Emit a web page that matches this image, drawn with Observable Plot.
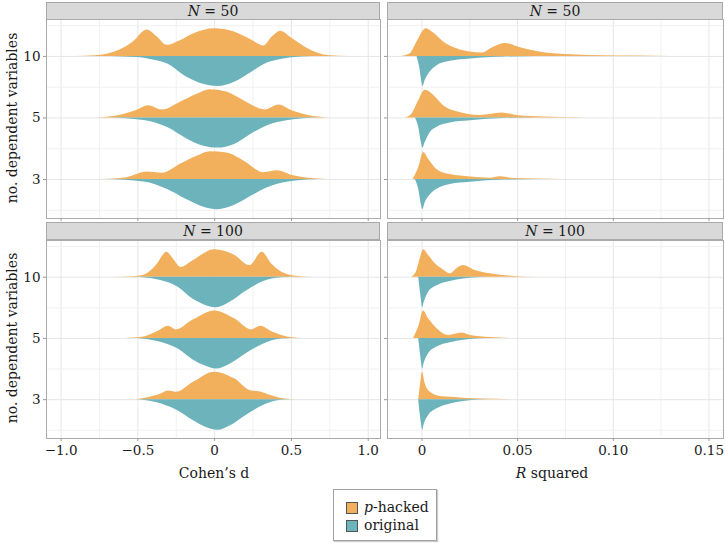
<!DOCTYPE html>
<html><head><meta charset="utf-8">
<script src="https://cdn.jsdelivr.net/npm/d3@7"></script>
<script src="https://cdn.jsdelivr.net/npm/@observablehq/plot@0.6"></script>
<style>
body{margin:0;background:#fff;font-family:"DejaVu Serif","Liberation Serif",serif;color:#1a1a1a}
#fig{position:relative;width:725px;height:543px;overflow:hidden}
#fig svg{position:absolute;overflow:visible}
.strip{position:absolute;background:#d9d9d9;border:1px solid #a9a9a9;box-sizing:border-box;text-align:center;font-size:14px;line-height:16px;color:#1a1a1a}
.ytitle{position:absolute;font-size:14px;white-space:nowrap;transform:translate(-50%,-50%) rotate(-90deg)}
.xtitle{position:absolute;font-size:14px;white-space:nowrap;transform:translateX(-50%)}
#legend{position:absolute;left:333px;top:489px;width:104px;height:52px;box-sizing:border-box;border:1px solid #a0a0a0;box-shadow:1px 1px 1px #ccc;font-size:14px}
.key{position:absolute;width:10px;height:10px;border:1px solid #555}
.lab{position:absolute;left:30px;line-height:16px}
</style></head>
<body><div id="fig"></div>
<script>
// ---- data -------------------------------------------------------------
const rowLabels = ["3", "5", "10"];
const groups = ["p-hacked", "original"];
const colors = ["#F2AF5C", "#6CB3BC"];
const panelTitles = ["50", "50", "100", "100"];
const dTicks = [-1, -0.5, 0, 0.5, 1];
const dTickLabels = ["\u22121.0", "\u22120.5", "0", "0.5", "1.0"];
const dMinor = [-0.75, -0.25, 0.25, 0.75];
const rTicks = [0, 0.05, 0.10, 0.15];
const rTickLabels = ["0", "0.05", "0.10", "0.15"];
const rMinor = [0.025, 0.075, 0.125];

// Cohen's d, N = 50 : [value, half-height (band units)]
const d50_hacked_10 = [[-0.9,0],[-0.78,0.01],[-0.62,0.1],[-0.53,0.235],[-0.44,0.43],[-0.375,0.32],[-0.31,0.18],[-0.22,0.26],[-0.135,0.37],[0.0,0.45],[0.125,0.4],[0.236,0.27],[0.32,0.17],[0.377,0.32],[0.43,0.41],[0.5,0.3],[0.607,0.126],[0.737,0.016],[0.88,0]];
const d50_original_10 = [[-0.68,0],[-0.48,0.02],[-0.4,0.06],[-0.31,0.12],[-0.18,0.34],[-0.08,0.45],[0.02,0.49],[0.13,0.42],[0.24,0.26],[0.34,0.11],[0.45,0.04],[0.6,0.005],[0.68,0]];
const d50_hacked_5 = [[-0.78,0],[-0.62,0.04],[-0.51,0.12],[-0.43,0.2],[-0.34,0.13],[-0.22,0.26],[-0.11,0.39],[-0.03,0.46],[0.08,0.42],[0.19,0.28],[0.33,0.13],[0.42,0.21],[0.5,0.12],[0.61,0.04],[0.74,0]];
const d50_original_5 = [[-0.7,0],[-0.46,0.04],[-0.31,0.15],[-0.18,0.34],[-0.07,0.46],[0.02,0.49],[0.13,0.43],[0.24,0.26],[0.34,0.13],[0.48,0.04],[0.68,0]];
const d50_hacked_3 = [[-0.74,0],[-0.57,0.03],[-0.44,0.12],[-0.34,0.1],[-0.22,0.25],[-0.11,0.38],[-0.03,0.45],[0.08,0.43],[0.19,0.3],[0.32,0.11],[0.41,0.14],[0.5,0.07],[0.61,0.02],[0.74,0]];
const d50_original_3 = [[-0.7,0],[-0.46,0.04],[-0.31,0.16],[-0.18,0.33],[-0.07,0.45],[0.02,0.49],[0.13,0.42],[0.24,0.27],[0.34,0.14],[0.48,0.04],[0.68,0]];

// Cohen's d, N = 100
const d100_hacked_10 = [[-0.66,0],[-0.51,0.01],[-0.44,0.055],[-0.38,0.19],[-0.31,0.41],[-0.27,0.3],[-0.22,0.16],[-0.14,0.27],[0.0,0.45],[0.13,0.36],[0.23,0.19],[0.31,0.41],[0.37,0.22],[0.46,0.055],[0.55,0.01],[0.64,0]];
const d100_original_10 = [[-0.52,0],[-0.48,0.005],[-0.35,0.055],[-0.24,0.16],[-0.14,0.36],[-0.07,0.45],[0.01,0.5],[0.1,0.41],[0.21,0.22],[0.32,0.07],[0.43,0.01],[0.52,0]];
const d100_hacked_5 = [[-0.58,0],[-0.47,0.02],[-0.38,0.1],[-0.3,0.2],[-0.25,0.14],[-0.14,0.3],[0.0,0.45],[0.13,0.32],[0.24,0.14],[0.3,0.2],[0.38,0.1],[0.48,0.02],[0.57,0]];
const d100_original_5 = [[-0.52,0],[-0.48,0.005],[-0.38,0.045],[-0.24,0.17],[-0.14,0.35],[-0.06,0.45],[0.01,0.5],[0.1,0.42],[0.21,0.24],[0.32,0.09],[0.43,0.01],[0.5,0]];
const d100_hacked_3 = [[-0.52,0],[-0.42,0.04],[-0.36,0.08],[-0.3,0.14],[-0.25,0.12],[-0.14,0.28],[0.0,0.45],[0.13,0.34],[0.24,0.14],[0.29,0.13],[0.37,0.065],[0.46,0.01],[0.53,0]];
const d100_original_3 = [[-0.52,0],[-0.48,0.005],[-0.38,0.045],[-0.24,0.18],[-0.14,0.34],[-0.05,0.46],[0.02,0.5],[0.1,0.43],[0.21,0.25],[0.32,0.09],[0.43,0.01],[0.5,0]];

// R squared, N = 50
const r50_hacked_10 = [[-0.0105,0],[-0.0061,0.044],[-0.0026,0.235],[0.0023,0.45],[0.0061,0.38],[0.0113,0.235],[0.0183,0.126],[0.0253,0.07],[0.0314,0.055],[0.0375,0.15],[0.0436,0.21],[0.0515,0.14],[0.0637,0.06],[0.0777,0.027],[0.0951,0.01],[0.1126,0.005],[0.13,0]];
const r50_original_10 = [[-0.0026,0],[-0.0012,0.175],[0,0.42],[0.0005,0.49],[0.0017,0.39],[0.0044,0.25],[0.0079,0.15],[0.0148,0.08],[0.0253,0.04],[0.0428,0.01],[0.0602,0]];
const r50_hacked_5 = [[-0.0087,0],[-0.0052,0.065],[-0.0017,0.28],[0.0017,0.45],[0.0061,0.37],[0.0113,0.2],[0.0183,0.1],[0.0305,0.04],[0.0358,0.055],[0.0419,0.08],[0.0497,0.04],[0.0637,0.015],[0.0811,0.005],[0.089,0]];
const r50_original_5 = [[-0.0035,0],[-0.0017,0.15],[-0.0003,0.4],[0.0005,0.49],[0.0017,0.4],[0.0044,0.235],[0.0079,0.15],[0.0148,0.08],[0.0253,0.045],[0.0428,0.01],[0.0602,0]];
const r50_hacked_3 = [[-0.0047,0],[-0.0017,0.19],[0.0009,0.44],[0.0035,0.33],[0.0079,0.16],[0.0148,0.08],[0.0253,0.04],[0.0358,0.02],[0.041,0.045],[0.048,0.016],[0.0602,0.008],[0.0742,0]];
const r50_original_3 = [[-0.0035,0],[-0.0017,0.16],[-0.0003,0.41],[0.0005,0.49],[0.0017,0.38],[0.0044,0.25],[0.0079,0.16],[0.0148,0.08],[0.0253,0.045],[0.0428,0.01],[0.0602,0]];

// R squared, N = 100
const r100_hacked_10 = [[-0.0052,0],[-0.0026,0.11],[-0.0009,0.3],[0.0009,0.45],[0.0035,0.355],[0.007,0.22],[0.0113,0.12],[0.0148,0.055],[0.0183,0.14],[0.0218,0.19],[0.027,0.12],[0.0358,0.055],[0.0462,0.016],[0.0602,0]];
const r100_original_10 = [[-0.0017,0],[-0.0009,0.22],[0,0.44],[0.0003,0.5],[0.0012,0.41],[0.0035,0.245],[0.0079,0.14],[0.0148,0.07],[0.0218,0.03],[0.0305,0.005],[0.0393,0]];
const r100_hacked_5 = [[-0.0044,0],[-0.0017,0.19],[0.0009,0.45],[0.0035,0.32],[0.0079,0.16],[0.014,0.05],[0.0209,0.09],[0.0253,0.05],[0.0358,0.016],[0.0462,0]];
const r100_original_5 = [[-0.0017,0],[-0.0009,0.22],[0,0.44],[0.0003,0.5],[0.0012,0.4],[0.0035,0.25],[0.0079,0.14],[0.0148,0.07],[0.0218,0.03],[0.0305,0.005],[0.0393,0]];
const r100_hacked_3 = [[-0.0017,0],[-0.0009,0.2],[0.0003,0.45],[0.0017,0.26],[0.0044,0.12],[0.0096,0.05],[0.0201,0.028],[0.027,0.015],[0.0393,0.008],[0.0462,0]];
const r100_original_3 = [[-0.0017,0],[-0.0009,0.24],[0,0.45],[0.0003,0.5],[0.0012,0.4],[0.0035,0.26],[0.0079,0.15],[0.0148,0.07],[0.0218,0.03],[0.0305,0.005],[0.0393,0]];

// ---- build ------------------------------------------------------------
const FONT = "'DejaVu Serif', 'Liberation Serif', serif";
const fig = document.getElementById("fig");

function toRows(list) {
  const out = [];
  list.forEach(([pts, row, g], k) => {
    for (const [x, h] of pts) out.push({id: k, x, row, h, g});
  });
  return out;
}

function panel(o) {
  const data = toRows(o.curves);
  const hacked = data.filter(d => d.g === 0);
  const orig = data.filter(d => d.g === 1);
  const marks = [
    Plot.gridX(o.minor, {stroke: "#f1f1f1", strokeOpacity: 1}),
    Plot.gridX(o.ticks, {stroke: "#e6e6e6", strokeOpacity: 1}),
    Plot.gridY([0.5, 1.5, 2.5, 3.5], {stroke: "#f1f1f1", strokeOpacity: 1}),
    Plot.gridY([1, 2, 3], {stroke: "#e6e6e6", strokeOpacity: 1}),
    Plot.areaY(hacked, {x: "x", y1: "row", y2: d => d.row + d.h, z: "id", fill: colors[0], curve: "monotone-x"}),
    Plot.areaY(orig, {x: "x", y1: "row", y2: d => d.row - d.h, z: "id", fill: colors[1], curve: "monotone-x"}),
    Plot.frame({stroke: "#ababab"}),
    Plot.axisY([1, 2, 3], {tickSize: 3, tickPadding: 3, stroke: "#999",
      tickFormat: o.showY ? (d => rowLabels[d - 1]) : (() => ""), fontSize: 13.5, label: null}),
    Plot.axisX(o.ticks, {tickSize: 3, tickPadding: 4, stroke: "#999",
      tickFormat: o.showX ? (d => o.labels[o.ticks.indexOf(d)]) : (() => ""), fontSize: 13.5, label: null})
  ];
  const svg = Plot.plot({
    width: o.width, height: o.height,
    marginLeft: o.ml, marginRight: 1, marginTop: 1, marginBottom: o.mb,
    x: {domain: o.domain, axis: null},
    y: {domain: [0.366, 3.6], axis: null},
    style: {fontFamily: FONT, fontSize: "13.5px", color: "#1a1a1a", background: "transparent"},
    marks
  });
  svg.style.left = o.left + "px";
  svg.style.top = o.top + "px";
  fig.appendChild(svg);
}

const dDomain = [-1.095, 1.08];
const rDomain = [-0.018, 0.1576];

panel({left: 0, top: 18, width: 381, height: 205, ml: 46, mb: 5, domain: dDomain, ticks: dTicks, minor: dMinor, labels: dTickLabels, showX: false, showY: true,
  curves: [[d50_hacked_10, 3, 0], [d50_original_10, 3, 1], [d50_hacked_5, 2, 0], [d50_original_5, 2, 1], [d50_hacked_3, 1, 0], [d50_original_3, 1, 1]]});
panel({left: 383, top: 18, width: 341, height: 205, ml: 4, mb: 5, domain: rDomain, ticks: rTicks, minor: rMinor, labels: rTickLabels, showX: false, showY: false,
  curves: [[r50_hacked_10, 3, 0], [r50_original_10, 3, 1], [r50_hacked_5, 2, 0], [r50_original_5, 2, 1], [r50_hacked_3, 1, 0], [r50_original_3, 1, 1]]});
panel({left: 0, top: 239, width: 381, height: 225, ml: 46, mb: 26, domain: dDomain, ticks: dTicks, minor: dMinor, labels: dTickLabels, showX: true, showY: true,
  curves: [[d100_hacked_10, 3, 0], [d100_original_10, 3, 1], [d100_hacked_5, 2, 0], [d100_original_5, 2, 1], [d100_hacked_3, 1, 0], [d100_original_3, 1, 1]]});
panel({left: 383, top: 239, width: 341, height: 225, ml: 4, mb: 26, domain: rDomain, ticks: rTicks, minor: rMinor, labels: rTickLabels, showX: true, showY: false,
  curves: [[r100_hacked_10, 3, 0], [r100_original_10, 3, 1], [r100_hacked_5, 2, 0], [r100_original_5, 2, 1], [r100_hacked_3, 1, 0], [r100_original_3, 1, 1]]});

// strips
const stripPos = [[46, 2, 334], [387, 2, 336], [46, 222, 334], [387, 222, 336]];
stripPos.forEach(([l, t, w], i) => {
  const s = document.createElement("div");
  s.className = "strip";
  s.style.left = l + "px"; s.style.top = t + "px"; s.style.width = w + "px"; s.style.height = "18px";
  s.innerHTML = "<i>N</i> = " + panelTitles[i];
  fig.appendChild(s);
});

// axis titles
[[12, 118], [12, 338]].forEach(([x, y]) => {
  const t = document.createElement("div");
  t.className = "ytitle"; t.style.left = x + "px"; t.style.top = y + "px";
  t.textContent = "no. dependent variables";
  fig.appendChild(t);
});
const xt1 = document.createElement("div");
xt1.className = "xtitle"; xt1.style.left = "214px"; xt1.style.top = "465px";
xt1.textContent = "Cohen\u2019s d"; fig.appendChild(xt1);
const xt2 = document.createElement("div");
xt2.className = "xtitle"; xt2.style.left = "552px"; xt2.style.top = "465px";
xt2.innerHTML = "<i>R</i> squared"; fig.appendChild(xt2);

// legend
const lg = document.createElement("div");
lg.id = "legend";
groups.forEach((g, i) => {
  const k = document.createElement("div");
  k.className = "key"; k.style.left = "12px"; k.style.top = (12 + i * 18) + "px"; k.style.background = colors[i];
  lg.appendChild(k);
  const l = document.createElement("div");
  l.className = "lab"; l.style.top = (9 + i * 18) + "px";
  l.innerHTML = i === 0 ? "<i>p</i>-hacked" : g;
  lg.appendChild(l);
});
fig.appendChild(lg);
</script>
</body></html>
